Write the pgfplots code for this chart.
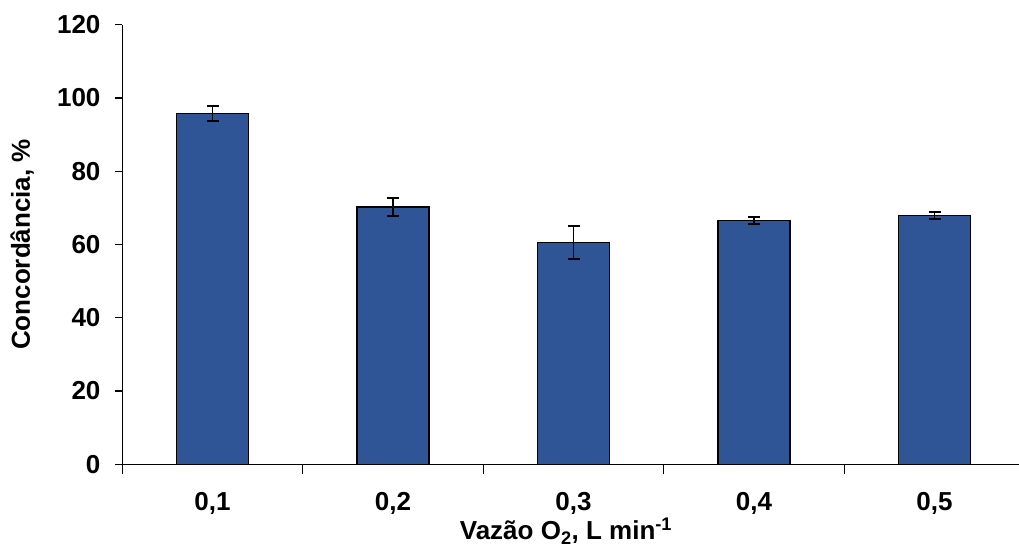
\documentclass[border=0pt]{standalone}
\usepackage{pgfplots}
\pgfplotsset{compat=1.18}
\usepackage{fontspec}
\setmainfont{Liberation Sans}
\definecolor{barblue}{RGB}{47,85,151}
\begin{document}
\fontsize{26}{30}\selectfont\bfseries
\begin{tikzpicture}
\begin{axis}[
  scale only axis,
  width=896.7pt, height=439.6pt,
  xmin=-0.5, xmax=4.468,
  ymin=0, ymax=120,
  axis lines*=left,
  axis line style={line width=1.2pt},
  ytick={0,20,...,120},
  xtick={0,1,2,3,4},
  xticklabels={{0,1},{0,2},{0,3},{0,4},{0,5}},
  major x tick style={draw=none},
  minor xtick={-0.5,0.5,1.5,2.5,3.5,4.5},
  minor tick length=10pt,
  major tick length=7pt,
  tick align=outside,
  tick style={line width=1.2pt, black},
  /pgf/number format/assume math mode=true,
  ticklabel style={font=\fontsize{26}{30}\selectfont\bfseries},
  yticklabel style={xshift=-6pt},
  xticklabel style={yshift=-12pt},
  every axis y label/.style={at={(rel axis cs:0,0.5)}, xshift=-100pt, rotate=90, anchor=center},
  every axis x label/.style={at={(rel axis cs:0,0)}, anchor=base, xshift=443.7pt, yshift=-75.7pt},
  ylabel={Concordância, \%},
  xlabel={Vazão O\textsubscript{2}, L min\textsuperscript{-1}},
  label style={font=\fontsize{26}{30}\selectfont\bfseries},
]
\coordinate (o) at (rel axis cs:0,0);
\coordinate (t) at (rel axis cs:1,1);
\addplot[ybar, bar width=0.4, fill=barblue, draw=black, line width=1.5pt,
  error bars/.cd, y dir=both, y explicit,
  error bar style={line width=1.8pt, black},
  error mark options={rotate=90, mark size=6pt, line width=1.8pt, black}]
  coordinates {
  (0,95.8) +- (0,2.1)
  (1,70.3) +- (0,2.45)
  (2,60.5) +- (0,4.55)
  (3,66.6) +- (0,0.95)
  (4,67.9) +- (0,0.87)
};
\end{axis}
\pgfresetboundingbox
\path ([shift={(-122.3pt,-84.7pt)}]o) rectangle ([shift={(0pt,24.7pt)}]t);
\end{tikzpicture}
\end{document}
